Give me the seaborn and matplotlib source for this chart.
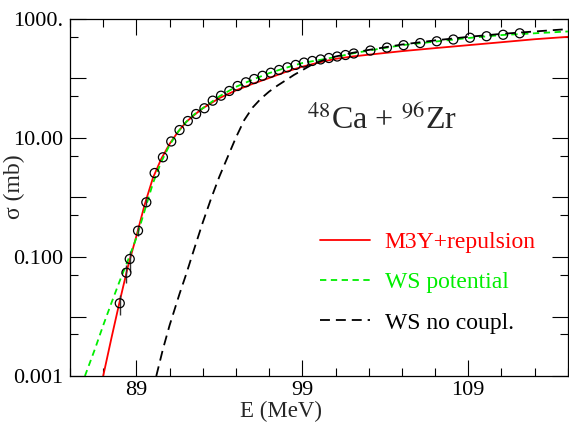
import matplotlib
matplotlib.use("Agg")
import matplotlib.pyplot as plt
from matplotlib.ticker import FixedLocator, FixedFormatter, NullFormatter
import pandas as pd
import seaborn as sns

e_exp = [88.0, 88.4, 88.6, 89.1, 89.6, 90.1, 90.6, 91.1, 91.6, 92.1, 92.6,
         93.1, 93.6, 94.1, 94.6, 95.1, 95.6, 96.1, 96.6, 97.1, 97.6, 98.1,
         98.6, 99.1, 99.6, 100.1, 100.6, 101.1, 101.6, 102.1, 103.1, 104.1,
         105.1, 106.1, 107.1, 108.1, 109.1, 110.1, 111.1, 112.1]
sig_exp = [0.0167, 0.0545, 0.0925, 0.277, 0.83, 2.58, 4.74, 8.74, 13.6, 19.3,
           25.3, 31.6, 42.4, 51.4, 61.7, 74.8, 86.3, 98, 111, 125, 139, 154,
           169, 185, 197, 209, 221, 234, 248, 263, 295, 331, 363, 394, 422,
           452, 484, 513, 543, 575]
err_exp = [0.0062, 0.018, 0.036, 0.055, 0.1] + [0] * 35

# M3Y+repulsion
e_m3y = [87.0, 87.5, 88.0, 88.5, 89.0, 89.5, 90.0, 90.5, 91.0, 91.5, 92.0,
         92.5, 93.0, 94.0, 95.0, 96.0, 97.0, 98.0, 99.0, 100.0, 101.0, 102.0,
         103.0, 105.0, 107.0, 109.0, 111.0, 113.0, 115.0]
sig_m3y = [0.001, 0.00437, 0.0182, 0.0708, 0.224, 0.759, 2.14, 4.47, 7.94,
           12.6, 18.6, 24.5, 31.6, 46.8, 63.1, 81.3, 102, 129, 158, 186, 214,
           234, 251, 288, 324, 363, 407, 457, 501]

# WS potential
e_ws = [85.9, 86.5, 87.0, 87.5, 88.0, 88.5, 89.0, 89.5, 90.0, 90.5, 91.0,
        91.5, 92.0, 92.5, 93.0, 94.0, 95.0, 96.0, 97.0, 98.0, 99.0, 100.0,
        101.0, 102.0, 103.0, 105.0, 107.0, 109.0, 111.0, 113.0, 115.0]
sig_ws = [0.001, 0.00282, 0.00708, 0.0170, 0.0398, 0.0891, 0.209, 0.603, 1.74,
          3.98, 7.59, 12.6, 18.6, 25.1, 31.6, 50.1, 72.4, 95.5, 123, 151, 182,
          204, 229, 263, 295, 363, 417, 479, 537, 575, 617]

# WS no coupling
e_nc = [90.2, 90.6, 91.0, 91.6, 92.0, 92.5, 93.0, 93.5, 94.0, 94.5, 95.0,
        95.5, 96.0, 96.5, 97.0, 97.5, 98.0, 98.5, 99.0, 99.5, 100.0, 100.5,
        101.0, 102.0, 103.0, 105.0, 107.0, 109.0, 111.0, 113.0, 115.0]
sig_nc = [0.001, 0.00282, 0.00708, 0.0240, 0.0513, 0.141, 0.380, 0.955, 2.24,
          4.79, 10.2, 20.0, 32.4, 45.7, 60.3, 75.9, 93.3, 115, 138, 166, 191,
          214, 234, 269, 302, 372, 437, 501, 562, 617, 676]

models = ["M3Y+repulsion", "WS potential", "WS no coupl."]
colors = {"M3Y+repulsion": "#ff0000", "WS potential": "#00ee00", "WS no coupl.": "black"}

curves = pd.concat([
    pd.DataFrame({"E": e_m3y, "sigma": sig_m3y, "model": models[0]}),
    pd.DataFrame({"E": e_ws, "sigma": sig_ws, "model": models[1]}),
    pd.DataFrame({"E": e_nc, "sigma": sig_nc, "model": models[2]}),
])

sns.set_theme(style="ticks")
plt.rcParams["font.family"] = ["Liberation Serif", "DejaVu Serif"]
plt.rcParams["mathtext.fontset"] = "stix"

fig, ax = plt.subplots(figsize=(5.69, 4.22), dpi=100)
fig.subplots_adjust(left=0.123, right=0.998, bottom=0.109, top=0.955)

sns.lineplot(data=curves, x="E", y="sigma", hue="model", style="model",
             hue_order=models, style_order=models, palette=colors,
             dashes={"M3Y+repulsion": "", "WS potential": (3.5, 2.5),
                     "WS no coupl.": (5.5, 3.3)},
             linewidth=1.3, estimator=None, sort=True, ax=ax)

ax.errorbar(e_exp, sig_exp, yerr=err_exp, fmt="none", ecolor="#333333",
            elinewidth=1, zorder=3)
n_before = len(ax.collections)
sns.scatterplot(x=e_exp, y=sig_exp, marker="o", s=42, linewidth=0.9,
                zorder=4, ax=ax)
for coll in ax.collections[n_before:]:
    coll.set_facecolor("none")
    coll.set_edgecolor("black")

ax.set_yscale("log")
ax.set_xlim(85, 115)
ax.set_ylim(1e-3, 1e3)

ax.xaxis.set_major_locator(FixedLocator([89, 99, 109]))
ax.xaxis.set_minor_locator(FixedLocator(list(range(85, 116, 2))))
ax.yaxis.set_major_locator(FixedLocator([1e-3, 1e-2, 1e-1, 1, 10, 100, 1000]))
ax.yaxis.set_major_formatter(FixedFormatter(["0.001", "", "0.100", "", "10.00", "", "1000."]))
ax.yaxis.set_minor_locator(FixedLocator([5e-3, 5e-2, 5e-1, 5, 50, 500]))
ax.yaxis.set_minor_formatter(NullFormatter())

ax.tick_params(which="both", direction="in", top=True, right=True,
               colors="black", width=0.8, labelsize=16)
ax.tick_params(which="major", length=11.5, pad=5)
ax.tick_params(axis="x", which="major", pad=3.5)
ax.tick_params(which="minor", length=5.8)
for sp in ax.spines.values():
    sp.set_linewidth(0.9)
    sp.set_color("black")

ax.set_xlabel("E (MeV)", fontsize=16.5, labelpad=0)
ax.set_ylabel("σ (mb)", fontsize=17)
ax.xaxis.set_label_coords(0.424, -0.07)
ax.yaxis.set_label_coords(-0.09, 0.53)

ax.text(0.627, 0.717, "$^{48}$Ca + $^{96}$Zr", transform=ax.transAxes,
        ha="center", va="center", fontsize=23)

handles, labels = ax.get_legend_handles_labels()
leg = ax.legend(handles, labels, loc="center left", bbox_to_anchor=(0.502, 0.262),
                frameon=False, fontsize=17, handlelength=2.1, handletextpad=0.65,
                labelspacing=0.8, borderpad=0, borderaxespad=0)
for txt, m in zip(leg.get_texts(), labels):
    txt.set_color(colors[m])

fig.savefig("out.png", dpi=100)
